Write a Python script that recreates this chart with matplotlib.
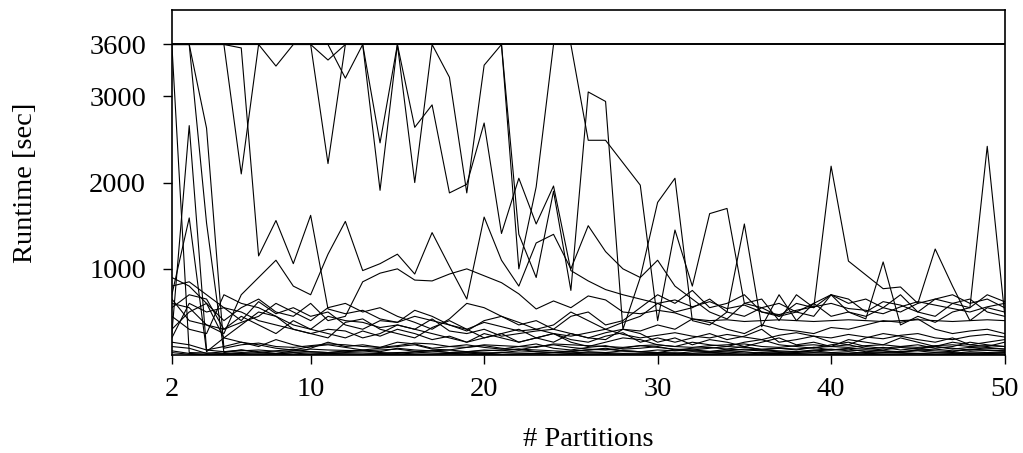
import numpy as np
import matplotlib
matplotlib.use("Agg")
import matplotlib.pyplot as plt

# number of partitions
partitions = list(range(2, 51))
timeout = 3600

# runtimes [sec], one list per run, values for 2..50 partitions
run_a = [3600, 3600, 3600, 3600, 2100, 3600, 3350, 3600, 3600, 3420,
         3600, 3600, 2460, 3600, 2640, 2900, 1880, 1980, 2690, 1410,
         2050, 1520, 1960, 980, 860, 760, 700, 650, 600, 640,
         560, 620, 540, 580, 500, 470, 520, 560, 600, 540,
         520, 480, 560, 620, 580, 540, 500, 560, 600]
run_b = [3600, 3600, 3600, 3600, 3560, 1150, 1560, 1060, 1620, 535,
         480, 520, 420, 380, 450, 400, 350, 300, 380, 330,
         280, 300, 250, 220, 260, 300, 240, 200, 230, 260,
         220, 200, 240, 210, 180, 230, 260, 220, 200, 240,
         210, 190, 230, 250, 200, 180, 220, 240, 210]
run_c = [3600, 3600, 3600, 3600, 3600, 3600, 3600, 3600, 3600, 2220,
         3600, 3600, 1910, 3600, 2000, 3600, 3220, 1880, 3360, 3600,
         1000, 1950, 3600, 3600, 2490, 2490, 2230, 1970, 400, 1450,
         800, 1640, 1700, 600, 650, 400, 700, 550, 2190, 1090,
         930, 770, 790, 600, 1230, 800, 400, 550, 500]
run_d = [3600, 3600, 3600, 3600, 3600, 3600, 3600, 3600, 3600, 3600,
         3210, 3600, 3600, 3600, 3600, 3600, 3600, 3600, 3600, 3600,
         1400, 900, 1900, 750, 3050, 2940, 300, 900, 1770, 2050,
         400, 350, 500, 1520, 330, 700, 400, 600, 450, 500,
         420, 1080, 350, 450, 380, 500, 550, 2420, 480]
run_e = [600, 550, 350, 250, 700, 900, 1100, 800, 700, 1170,
         1550, 980, 1060, 1170, 940, 1420, 1030, 650, 1600, 1100,
         800, 1300, 1400, 1000, 1500, 1200, 1000, 900, 1100, 800,
         650, 500, 420, 600, 550, 450, 500, 600, 700, 500,
         450, 550, 700, 500, 450, 600, 650, 500, 450]
run_f = [900, 800, 600, 400, 550, 650, 500, 450, 600, 400,
         450, 850, 950, 1000, 870, 860, 940, 1000, 920, 840,
         710, 535, 628, 550, 686, 640, 500, 480, 520, 490,
         420, 400, 410, 390, 400, 410, 400, 390, 400, 410,
         400, 390, 400, 410, 400, 390, 400, 410, 400]
run_g = [3600, 30, 25, 20, 30, 25, 20, 30, 25, 20,
         30, 25, 20, 30, 35, 25, 20, 30, 25, 30,
         25, 20, 30, 35, 25, 30, 20, 25, 30, 25,
         20, 30, 35, 25, 30, 20, 25, 30, 25, 20,
         30, 25, 30, 20, 25, 30, 20, 25, 30]
run_h = [250, 2660, 60, 40, 50, 60, 45, 50, 70, 60,
         55, 50, 60, 70, 45, 50, 60, 40, 50, 60,
         70, 60, 50, 40, 60, 70, 50, 40, 60, 50,
         60, 45, 50, 70, 60, 50, 40, 60, 70, 50,
         60, 50, 40, 60, 70, 50, 60, 55, 50]
run_i = [3600, 3600, 2630, 80, 120, 140, 100, 90, 110, 130,
         120, 100, 90, 110, 140, 130, 100, 90, 120, 110,
         100, 90, 130, 120, 110, 100, 90, 110, 120, 100,
         90, 110, 120, 130, 100, 90, 110, 120, 100, 90,
         110, 120, 100, 90, 110, 120, 100, 110, 100]
run_j = [3600, 3600, 1530, 30, 60, 40, 20, 50, 40, 30,
         40, 50, 30, 20, 40, 50, 30, 40, 20, 30,
         50, 40, 30, 20, 40, 30, 50, 40, 30, 20,
         40, 30, 50, 40, 20, 30, 40, 50, 30, 40,
         20, 30, 40, 50, 30, 20, 40, 30, 40]
run_k = [700, 1590, 40, 200, 150, 100, 180, 120, 80, 150,
         100, 120, 90, 150, 130, 80, 100, 120, 90, 70,
         100, 130, 80, 60, 90, 110, 70, 80, 100, 60,
         80, 90, 70, 100, 60, 80, 70, 90, 60, 80,
         70, 90, 60, 80, 100, 70, 90, 80, 70]
run_l = [550, 700, 650, 300, 450, 350, 250, 400, 300, 450,
         400, 380, 320, 350, 300, 420, 280, 250, 300, 220,
         250, 280, 300, 250, 200, 260, 300, 280, 350, 300,
         420, 380, 300, 250, 350, 300, 280, 250, 320, 300,
         350, 400, 380, 420, 300, 250, 280, 300, 250]
run_m = [300, 500, 600, 200, 350, 500, 450, 300, 250, 200,
         380, 420, 300, 250, 200, 320, 400, 300, 200, 250,
         150, 200, 250, 180, 150, 220, 260, 150, 200, 150,
         200, 250, 180, 220, 300, 150, 180, 220, 150, 120,
         200, 250, 220, 180, 150, 200, 120, 150, 180]
run_n = [800, 850, 700, 550, 400, 620, 480, 550, 450, 500,
         350, 300, 400, 380, 520, 450, 350, 280, 400, 450,
         380, 300, 350, 500, 400, 300, 380, 450, 600, 500,
         550, 650, 500, 450, 550, 600, 500, 450, 700, 650,
         500, 620, 580, 500, 650, 600, 550, 700, 620]
run_o = [450, 300, 250, 700, 600, 550, 450, 350, 300, 250,
         200, 280, 220, 300, 250, 180, 220, 150, 200, 250,
         300, 200, 150, 250, 200, 180, 300, 250, 150, 200,
         120, 180, 150, 100, 150, 200, 120, 150, 100, 180,
         150, 120, 200, 150, 100, 150, 120, 100, 150]
run_p = [200, 600, 500, 550, 500, 400, 350, 300, 250, 300,
         280, 200, 250, 350, 300, 250, 200, 150, 250, 200,
         150, 200, 250, 150, 100, 150, 200, 180, 120, 100,
         150, 120, 100, 150, 180, 120, 100, 80, 120, 150,
         100, 80, 100, 120, 80, 100, 150, 120, 100]
run_q = [650, 400, 350, 300, 380, 450, 600, 500, 400, 550,
         600, 500, 550, 450, 380, 300, 420, 600, 550, 450,
         350, 400, 300, 450, 500, 350, 400, 550, 700, 600,
         750, 550, 600, 700, 500, 450, 600, 550, 700, 600,
         650, 550, 500, 600, 650, 700, 600, 650, 550]
run_r = [50, 20, 10, 15, 20, 10, 15, 25, 10, 20,
         15, 10, 20, 25, 15, 10, 20, 15, 25, 10,
         15, 20, 10, 15, 25, 20, 10, 15, 20, 25,
         10, 15, 20, 10, 25, 15, 20, 10, 15, 20,
         25, 10, 15, 20, 10, 15, 25, 20, 15]
run_s = [100, 80, 20, 40, 60, 30, 50, 70, 40, 30,
         50, 60, 40, 80, 60, 50, 30, 40, 60, 50,
         70, 40, 30, 50, 60, 80, 50, 40, 30, 60,
         50, 40, 70, 60, 50, 40, 30, 50, 60, 70,
         40, 50, 30, 60, 50, 40, 70, 60, 50]
run_t = [150, 120, 60, 100, 150, 120, 80, 60, 100, 120,
         90, 60, 80, 100, 120, 70, 60, 90, 110, 80,
         60, 100, 120, 90, 70, 60, 80, 110, 90, 70,
         60, 80, 100, 90, 70, 80, 60, 90, 100, 120,
         80, 60, 90, 70, 100, 80, 60, 90, 70]
run_u = [30, 10, 5, 10, 8, 12, 10, 6, 8, 10,
         12, 8, 10, 6, 8, 10, 12, 10, 8, 6,
         10, 12, 8, 10, 6, 8, 12, 10, 8, 6,
         10, 8, 12, 10, 6, 8, 10, 12, 8, 10,
         6, 8, 10, 12, 8, 6, 10, 8, 12]

runs = [run_a, run_b, run_c, run_d, run_e, run_f, run_g, run_h, run_i,
        run_j, run_k, run_l, run_m, run_n, run_o, run_p, run_q, run_r,
        run_s, run_t, run_u]

plt.rcParams['font.family'] = ['Liberation Serif', 'DejaVu Serif']
plt.rcParams['font.size'] = 20.5

fig = plt.figure(figsize=(10.23, 4.53), dpi=100)
ax = fig.add_axes([0.168, 0.216, 0.814, 0.762])

for r in runs:
    ax.plot(partitions, r, color='black', linewidth=0.8)
ax.axhline(timeout, color='black', linewidth=1.4)

ax.set_xlim(2, 50)
ax.set_ylim(0, 4000)
ax.set_xticks([2, 10, 20, 30, 40, 50])
ax.set_yticks([1000, 2000, 3000, 3600])
ax.tick_params(direction='out', length=6.5, width=1, top=False, right=False)
ax.tick_params(axis='y', pad=12)
ax.tick_params(axis='x', pad=9)
for s in ax.spines.values():
    s.set_linewidth(1.2)

ax.set_xlabel('# Partitions', labelpad=18)
ax.set_ylabel('Runtime [sec]', labelpad=37)

fig.savefig('out.png', dpi=100)
